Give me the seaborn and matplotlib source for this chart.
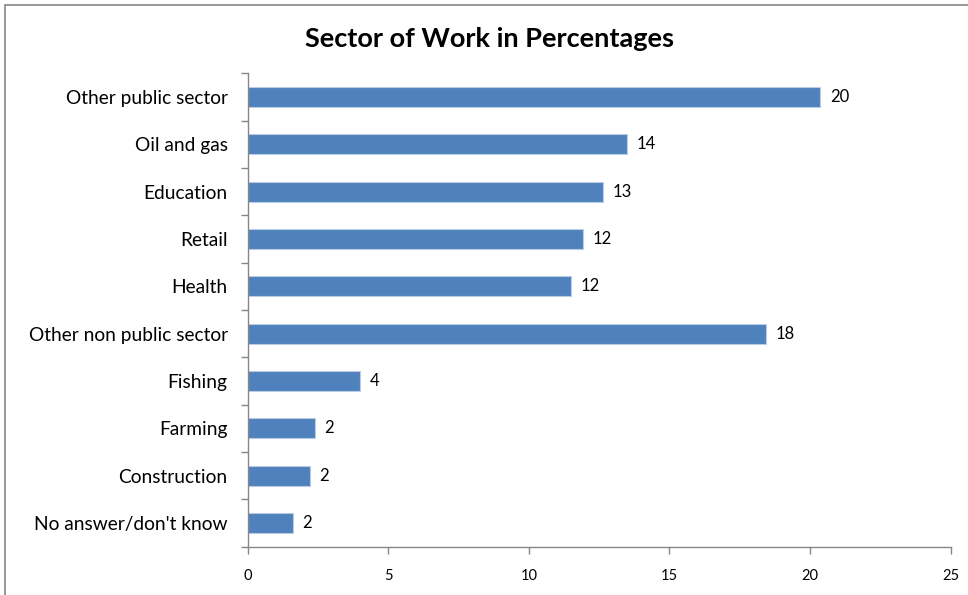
import matplotlib
matplotlib.use("Agg")
import matplotlib.pyplot as plt
import seaborn as sns
import pandas as pd
import numpy as np
from matplotlib.patches import Rectangle

categories = ["Other public sector", "Oil and gas", "Education", "Retail", "Health",
              "Other non public sector", "Fishing", "Farming", "Construction",
              "No answer/don't know"]
values = [20.36, 13.49, 12.63, 11.92, 11.49, 18.43, 3.99, 2.38, 2.21, 1.60]
value_labels = ["20", "14", "13", "12", "12", "18", "4", "2", "2", "2"]
x_ticks = [0, 5, 10, 15, 20, 25]

sns.set_theme(style="white")
plt.rcParams["font.family"] = ["Lato", "DejaVu Sans"]

df = pd.DataFrame({"category": categories, "value": values})

fig = plt.figure(figsize=(9.68, 5.95), dpi=100)
ax = fig.add_axes([0.256, 0.081, 0.726, 0.796])

sns.barplot(data=df, x="value", y="category", order=categories, color="#4F81BD",
            saturation=1, width=0.42, edgecolor="#B9CDE5", linewidth=0.8, ax=ax)

ax.bar_label(ax.containers[0], labels=value_labels, padding=7, fontsize=12, color="black")

ax.set_xlim(0, 25)
ax.set_ylim(len(categories) - 0.5, -0.5)
ax.set_xticks(x_ticks)
ax.set_xticklabels([str(t) for t in x_ticks], fontsize=10.5)
ax.set_xlabel("")
ax.set_ylabel("")

# y ticks: labels at centers, tick marks at category boundaries
ax.set_yticks(range(len(categories)))
ax.set_yticklabels(categories, fontsize=13.8)
ax.set_yticks(np.arange(-0.5, len(categories), 1.0), minor=True)
ax.tick_params(axis="y", which="major", left=True, length=0, pad=14.5, colors="black")
ax.tick_params(axis="y", which="minor", left=True, length=5, width=1, color="#868686",
               direction="out")
ax.tick_params(axis="x", which="major", bottom=True, length=5, width=1, color="#868686",
               direction="out", pad=11, labelcolor="black")

for side in ["top", "right"]:
    ax.spines[side].set_visible(False)
for side in ["left", "bottom"]:
    ax.spines[side].set_color("#868686")
    ax.spines[side].set_linewidth(1)

fig.text(0.506, 0.935, "Sector of Work in Percentages", ha="center", va="center",
         fontsize=19.5, fontweight="bold", color="black")

# outer chart border
fig.patches.append(Rectangle((5 / 968, -0.1), 1.2, 1.1 - 5 / 595,
                             transform=fig.transFigure, fill=False,
                             edgecolor="#868686", linewidth=1.2))

fig.savefig("out.png", dpi=100)
